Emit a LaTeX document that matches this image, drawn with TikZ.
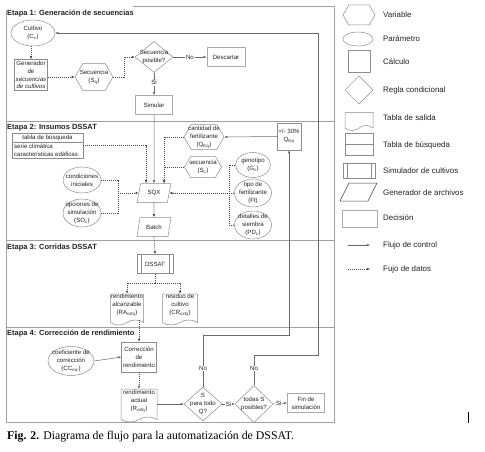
\documentclass[tikz,border=0pt]{standalone}
\usepackage{fontspec}
\setmainfont{Liberation Serif}
\setsansfont{Liberation Sans}
\usetikzlibrary{shapes.geometric,shapes.symbols,arrows.meta}
\definecolor{shp}{HTML}{8C8C8C}
\definecolor{lin}{HTML}{6A6A6A}
\definecolor{dat}{HTML}{4A4A4A}
\definecolor{txt}{HTML}{222222}
\definecolor{frm}{HTML}{A0A0A0}
\tikzset{
  tx/.style={font=\sffamily\fontsize{6.1}{7.8}\selectfont, text=txt, align=center, inner sep=0pt},
  T/.style={label={[tx]center:#1}},
  TU/.style={label={[tx,yshift=2pt]center:#1}},
  base/.style={draw=shp, line width=0.5pt, inner sep=0pt, fill=white},
  par/.style={base, ellipse},
  var/.style={base, signal, signal to=east and west, signal pointer angle=120},
  calc/.style={base, rectangle},
  deci/.style={base, rectangle, draw=shp!75, line width=0.9pt},
  cond/.style={base, diamond},
  outt/.style={base, tape, tape bend top=none, tape bend height=5pt},
  simbox/.style={base, rectangle, path picture={
     \draw[shp, line width=0.5pt] ([xshift=4pt]path picture bounding box.north west) -- ([xshift=4pt]path picture bounding box.south west);
     \draw[shp, line width=0.5pt] ([xshift=-4pt]path picture bounding box.north east) -- ([xshift=-4pt]path picture bounding box.south east);}},
  genf/.style={base, tx, draw=shp, inner sep=2pt, trapezium, trapezium left angle=76, trapezium right angle=104, trapezium stretches=true},
  sz/.style 2 args={minimum width=#1, minimum height=#2},
  ctrl/.style={draw=lin, line width=0.5pt, -{Latex[length=3pt,width=2.6pt]}},
  data/.style={draw=dat, line width=0.6pt, dash pattern=on 1pt off 1pt, -{Latex[length=3pt,width=2.6pt]}},
  datal/.style={draw=dat, line width=0.6pt, dash pattern=on 1pt off 1pt},
  lab/.style={tx, fill=white, inner sep=0.7pt},
  stage/.style={anchor=west, font=\sffamily\bfseries\fontsize{7.5}{9}\selectfont, text=txt, inner sep=0pt},
  leg/.style={anchor=west, font=\sffamily\fontsize{7.9}{9}\selectfont, text=txt, inner sep=0pt},
  frame/.style={draw=frm, line width=0.6pt},
}
\begin{document}
\begin{tikzpicture}[x=1pt,y=-1pt]
\useasboundingbox (0,0) rectangle (485,452);
% frame
\draw[frame] (133,6) -- (334,6) -- (334,422) -- (6,422) -- (6,10);
\draw[frame] (6,121) -- (334,121);
\draw[frame] (6,240) -- (334,240);
\draw[frame] (6,327) -- (334,327);
% Stage 1
\node[stage] (e1) at (7,14) {Etapa 1: Generación de secuencias};
\node[par, sz={44}{26}, T={Cultivo\\(C\textsubscript{c})}] (cult) at (33,33) {};
\node[calc, sz={33}{31}, T={Generador\\\textit{de}\\\textit{secuencias}\\\textit{de cultivos}}] (gen) at (31,75) {};
\node[var, sz={38}{27}, T={Secuencia\\(S\textsubscript{q})}] (sq) at (94,77) {};
\node[cond, sz={38}{31}, T={Secuencia\\posible?}] (d1) at (154,57) {};
\node[deci, sz={38}{19}, T={Descartar}] (desc) at (226,57) {};
\node[deci, sz={37}{19}, T={Simular}] (simu) at (154,105) {};
% Stage 2
\node[stage] (e2) at (7,128) {Etapa 2: Insumos DSSAT};
\node[calc, sz={71}{25}] (tab) at (47.5,145.5) {};
\draw[shp, line width=0.5pt] (12,142) -- (83,142);
\node[tx] (tabh) at (47.5,137.5) {tabla de búsqueda};
\node[tx, anchor=west, align=left] (tabb) at (14,150.5) {serie climática\\características edáficas};
\node[var, sz={40}{25}, T={cantidad de\\fertilizante\\(Q\textsubscript{fcq})}] (cant) at (204,137) {};
\node[calc, sz={24}{27}, T={+/- 30\%\\Q\textsubscript{fcq}}] (pm) at (289,136.5) {};
\node[var, sz={37}{21}, T={secuencia\\(S\textsubscript{c})}] (secs) at (203,167) {};
\node[par, sz={38}{26}, T={condiciones\\iniciales}] (cini) at (82,180) {};
\node[par, sz={38}{28}, T={opciones de\\simulación\\(SO\textsubscript{c})}] (opc) at (82,213) {};
\node[genf, sz={34}{19}] (sqx) at (154,193) {SQX};
\node[genf, sz={34}{19}] (batch) at (154,227) {Batch};
\node[par, sz={35}{25}, T={genotipo\\(G\textsubscript{c})}] (geno) at (253,165) {};
\node[par, sz={37}{28}, T={tipo de\\fertilizante\\(Ft)}] (tipo) at (253,193) {};
\node[par, sz={37}{28}, T={detalles de\\siembra\\(PD\textsubscript{c})}] (det) at (253,225) {};
% Stage 3
\node[stage] (e3) at (7,248) {Etapa 3: Corridas DSSAT};
\node[simbox, sz={36}{19}, T={DSSAT}] (dssat) at (155,264) {};
\node[outt, sz={33}{31}, TU={rendimiento\\alcanzable\\(RA\textsubscript{csfq})}] (ra) at (127,307) {};
\node[outt, sz={35}{31}, TU={residuo de\\cultivo\\(CR\textsubscript{csfq})}] (cr) at (180,307) {};
% Stage 4
\node[stage] (e4) at (7,334) {Etapa 4: Corrección de rendimiento};
\node[par, sz={46}{29}, T={coeficiente de\\corrección\\(CC\textsubscript{mc})}] (coef) at (71,361) {};
\node[calc, sz={35}{30}, T={Corrección\\de\\rendimiento}] (corr) at (139,357) {};
\node[outt, sz={36}{33}, TU={rendimiento\\actual\\(R\textsubscript{csfq})}] (rac) at (139,403) {};
\node[cond, sz={38}{34}, T={S\\para todo\\Q?}] (d2) at (203,404) {};
\node[cond, sz={38}{37}, T={todas S\\posibles?}] (d3) at (254,404) {};
\node[deci, sz={37}{19}, T={Fin de\\simulación}] (fin) at (306,403) {};
% junctions
\coordinate (k1) at (289,335);
\coordinate (k2) at (318,355);
\coordinate (k3) at (318,33);
\coordinate (jl) at (118,193);
\coordinate (jr) at (229,193);
\coordinate (jd) at (155,283);
% connectors
\draw[data] (gen.north |- cult.south) -- (gen.north);
\draw[data] (gen.east |- sq.west) -- (sq.west);
\draw[data] (sq.east) -- ++(11,0) |- (d1.west);
\draw[ctrl] (d1.east) -- node[lab]{No} (desc.west);
\draw[ctrl] (d1.south) -- node[lab,pos=.45]{Si} (simu.north);
\draw[ctrl] (simu.south) -- (sqx.north);
\draw[data] (tab.east) -| ([xshift=-8pt]sqx.north);
\draw[data] (cant.west) -| ([xshift=10pt]sqx.north);
\draw[data] (secs.west) -| ([xshift=10pt]sqx.north);
\draw[ctrl] (pm.west) -- (cant.east);
\draw[datal] (cini.east) -| (jl);
\draw[datal] (opc.east) -| (jl);
\draw[data] (jl) -- (sqx.west);
\draw[datal] (geno.west) -| (jr);
\draw[datal] (det.west) -| (jr);
\draw[data] (tipo.west) -- (sqx.east);
\draw[data] (sqx.south) -- (batch.north);
\draw[data] (batch.south) -- (dssat.north);
\draw[datal] (dssat.south) -- (jd);
\draw[data] (jd) -| (ra.north);
\draw[data] (jd) -| (cr.north);
\draw[data] (corr.north |- ra.south) -- (corr.north);
\draw[ctrl] (coef.east) -- (corr.west);
\draw[data] (corr.south) -- (rac.north);
\draw[ctrl] (rac.east |- d2.west) -- (d2.west);
\draw[ctrl] (d2.east) -- node[lab]{Si} (d3.west);
\draw[ctrl] (d3.east) -- node[lab,pos=.4]{Si} (fin.west);
\draw[ctrl] (d2.north) -- node[lab,pos=.35]{No} (d2.north |- k1) -- (k1) -- (pm.south);
\draw[ctrl] (d3.north) -- node[lab,pos=.55]{No} (d3.north |- k2) -- (k2) -- (k3) -- (cult.east |- k3);
% legend
\node[var, sz={32}{20}] (lv) at (359,15) {};
\node[leg] (lvt) at (383,15) {Variable};
\node[par, sz={30}{14}] (lp) at (358,39) {};
\node[leg] (lpt) at (383,39) {Parámetro};
\node[calc, sz={22}{22}] (lc) at (359,61) {};
\node[leg] (lct) at (383,62) {Cálculo};
\node[cond, sz={28}{28}] (ld) at (359,90) {};
\node[leg] (ldt) at (383,90) {Regla condicional};
\node[outt, sz={28}{18}] (lt) at (359,119) {};
\node[leg] (ltt) at (383,118) {Tabla de salida};
\node[calc, sz={28}{22}] (lb) at (359,144) {};
\draw[shp, line width=0.5pt] (lb.west) -- (lb.east);
\node[leg] (lbt) at (383,145) {Tabla de búsqueda};
\node[simbox, sz={32}{15}] (ls) at (359,170.5) {};
\node[leg] (lst) at (383,171) {Simulador de cultivos};
\node[genf, sz={37}{18}, draw=black!75, trapezium left angle=65, trapezium right angle=115] (lg) at (358.5,192) {\phantom{X}};
\node[leg] (lgt) at (383,193) {Generador de archivos};
\node[deci, sz={35}{17}] (lde) at (359.5,218.5) {};
\node[leg] (ldet) at (383,218) {Decisión};
\coordinate (lf1) at (348,245);
\coordinate (lf2) at (370,245);
\draw[ctrl] (lf1) -- (lf2);
\node[leg] (lft) at (383,245) {Flujo de control};
\coordinate (lq1) at (348,269);
\coordinate (lq2) at (370,269);
\draw[data] (lq1) -- (lq2);
\node[leg] (lqt) at (383,269) {Fujo de datos};
% caption
\node[anchor=west, font=\rmfamily\fontsize{11.8}{14}\selectfont, inner sep=0pt] (cap) at (7,437) {\textbf{Fig. 2.} Diagrama de flujo para la automatización de DSSAT.};
\draw[black, line width=0.7pt] (468,412) -- (468,423);
\end{tikzpicture}
\end{document}
